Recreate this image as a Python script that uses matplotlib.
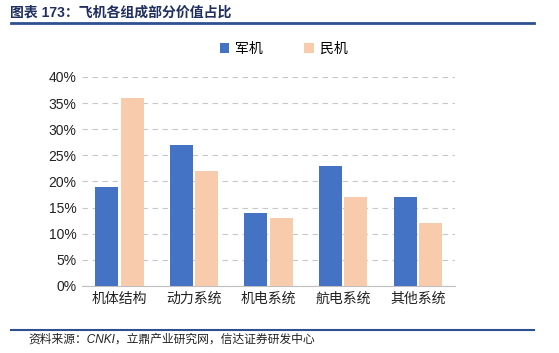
import numpy as np
import matplotlib.pyplot as plt
from matplotlib.lines import Line2D

plt.rcParams['font.family'] = ['Liberation Sans', 'Noto Sans CJK SC']

categories = ['机体结构', '动力系统', '机电系统', '航电系统', '其他系统']
military = [19, 27, 14, 23, 17]
civil = [36, 22, 13, 17, 12]
yticks = [0, 5, 10, 15, 20, 25, 30, 35, 40]

BLUE = '#4472C4'
PEACH = '#F8CBAD'
NAVY = '#2F5090'

fig = plt.figure(figsize=(5.59, 3.53), dpi=100)
ax = fig.add_axes([0.147, 0.19, 0.667, 0.592])

x = np.arange(len(categories))
w = 0.31
ax.bar(x - 0.17, military, w, color=BLUE, label='军机', zorder=3)
ax.bar(x + 0.17, civil, w, color=PEACH, label='民机', zorder=3)

ax.set_xlim(-0.5, len(categories) - 0.5)
ax.set_ylim(0, 40)
ax.set_yticks(yticks)
ax.set_yticklabels([f'{v}%' for v in yticks], fontsize=10, color='#222222')
ax.set_xticks(x)
ax.set_xticklabels(categories, fontsize=10, color='#222222')
ax.tick_params(length=0, pad=4)
ax.yaxis.grid(True, linestyle=(0, (5, 4)), color='#C8C8C8', linewidth=0.8, zorder=0)
for s in ['top', 'right', 'left']:
    ax.spines[s].set_visible(False)
ax.spines['bottom'].set_color('#BFBFBF')

ax.legend(loc='lower center', bbox_to_anchor=(0.54, 1.04), ncol=2, frameon=False,
          fontsize=10, handlelength=0.7, handleheight=0.7, columnspacing=3.0, handletextpad=0.4)

# header and footer
fig.text(0.018, 0.963, '图表 173：飞机各组成部分价值占比', fontsize=10, fontweight='bold',
         color='#1F2F5F', va='center', ha='left')
fig.add_artist(Line2D([0.02, 0.955], [0.934, 0.934], color=NAVY, linewidth=2))
fig.add_artist(Line2D([0.02, 0.955], [0.065, 0.065], color=NAVY, linewidth=1.5))
fig.text(0.05, 0.038, '资料来源：CNKI，立鼎产业研究网，信达证券研发中心', fontsize=8.5,
         style='italic', color='#222222', va='center', ha='left')

fig.savefig('out.png', dpi=100)
